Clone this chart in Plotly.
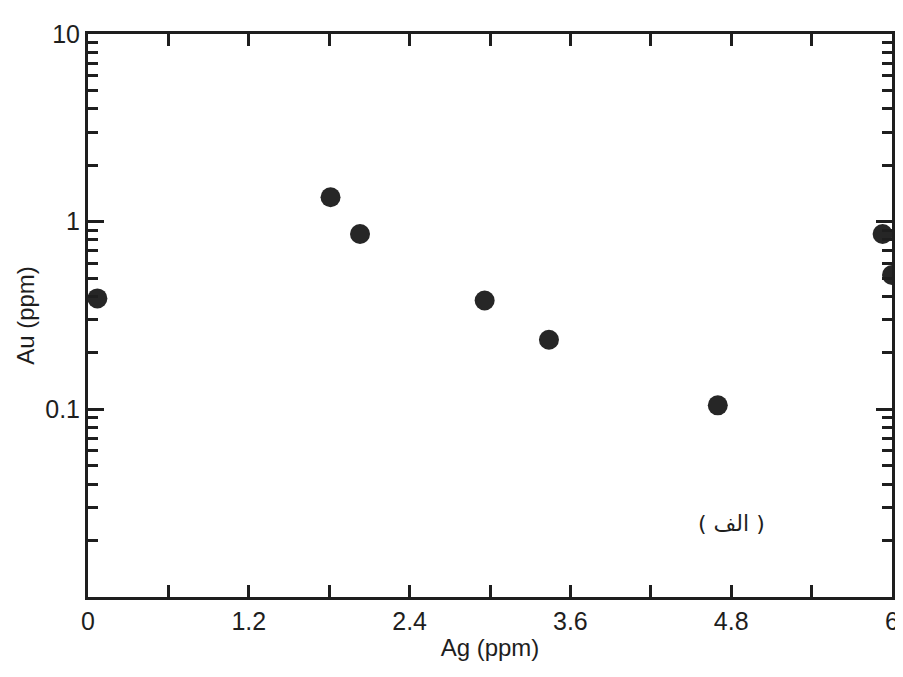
import plotly.graph_objects as go

ag_ppm = [0.07, 1.81, 2.03, 2.96, 3.44, 4.70, 5.93, 6.0]
au_ppm = [0.39, 1.35, 0.86, 0.38, 0.235, 0.105, 0.86, 0.52]

x_tickvals = [0, 1.2, 2.4, 3.6, 4.8, 6]
x_ticktext = ["0", "1.2", "2.4", "3.6", "4.8", "6"]
y_tickvals = [0.01, 0.1, 1, 10]
y_ticktext = ["", "0.1", "1", "10"]
y_minor = [m * d for d in [0.01, 0.1, 1] for m in range(2, 10)]

font_family = "Liberation Sans, Arial, sans-serif"
ink = "#1e1e1e"

fig = go.Figure()
# invisible copy bound to the overlay axis that carries the minor log ticks
fig.add_trace(go.Scatter(
    x=ag_ppm, y=au_ppm, mode="markers", yaxis="y2",
    marker=dict(size=1, opacity=0), showlegend=False, hoverinfo="skip",
))
fig.add_trace(go.Scatter(
    x=ag_ppm, y=au_ppm, mode="markers",
    marker=dict(size=20, color="#262626", line=dict(width=0)),
    cliponaxis=False, showlegend=False, hoverinfo="skip",
))

fig.update_xaxes(
    range=[0, 6], tickvals=x_tickvals, ticktext=x_ticktext,
    ticks="inside", ticklen=12, tickwidth=2.5, tickcolor=ink,
    minor=dict(dtick=0.6, tick0=0, ticks="inside", ticklen=12, tickwidth=2.5, tickcolor=ink),
    showline=True, linewidth=3, linecolor=ink, mirror="allticks",
    showgrid=False, zeroline=False,
    tickfont=dict(size=25, color=ink, family=font_family),
    title=dict(text="Ag (ppm)", font=dict(size=24, color=ink, family=font_family), standoff=6),
)
fig.update_layout(
    yaxis=dict(
        type="log", range=[-2, 1], tickvals=y_tickvals, ticktext=y_ticktext,
        ticks="inside", ticklen=16, tickwidth=2.5, tickcolor=ink,
        showline=True, linewidth=3, linecolor=ink, mirror="allticks",
        showgrid=False, zeroline=False,
        tickfont=dict(size=25, color=ink, family=font_family),
        title=dict(text="Au (ppm)", font=dict(size=24, color=ink, family=font_family), standoff=4),
    ),
    yaxis2=dict(
        type="log", range=[-2, 1], overlaying="y", side="left",
        tickmode="array", tickvals=y_minor, showticklabels=False,
        ticks="inside", ticklen=10, tickwidth=2.5, tickcolor=ink,
        showline=False, mirror="ticks", showgrid=False, zeroline=False,
    ),
)

fig.add_annotation(
    x=0.845, y=0.105, xref="paper", yref="paper",
    text="( الف )", showarrow=False,
    font=dict(size=22, color=ink, family="DejaVu Sans, Noto Sans, sans-serif"),
)

fig.update_layout(
    width=903, height=677,
    margin=dict(l=80, r=13, t=26, b=88),
    paper_bgcolor="white", plot_bgcolor="white",
)

fig.write_html("out.html")
